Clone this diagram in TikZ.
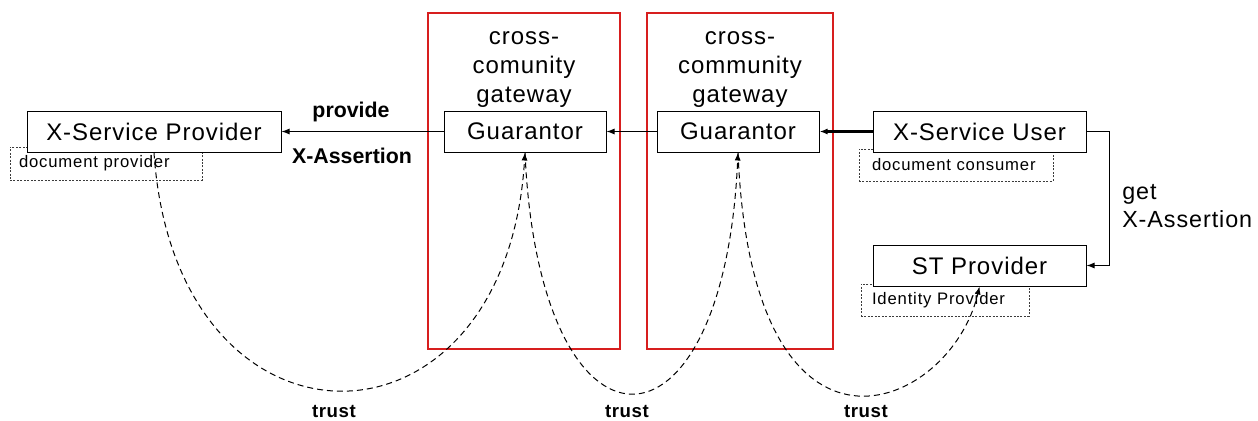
\documentclass[tikz,border=0pt]{standalone}
\usepackage{fontspec}
\setmainfont{Liberation Sans}
\usetikzlibrary{arrows.meta}
\definecolor{gwred}{RGB}{215,30,30}
\definecolor{dotgray}{RGB}{60,60,60}
\begin{document}
\begin{tikzpicture}[x=0.75pt,y=-0.75pt,
  mainfont/.style={font=\fontsize{18}{21.75}\selectfont\addfontfeature{LetterSpace=4}},
  box/.style={draw, fill=white, line width=0.75pt, inner sep=0pt, minimum height=30.75pt, mainfont},
  rolebox/.style={draw=dotgray, dash pattern=on 1.5pt off 1.1pt, line width=0.6pt, inner sep=0pt,
     align=left, font=\fontsize{12.5}{14}\selectfont\addfontfeature{LetterSpace=5}},
  gwbox/.style={draw=gwred, line width=0.8pt, minimum height=252pt, inner sep=0pt},
  arr/.style={-{Latex[length=6pt,width=4.5pt]}, line width=0.75pt},
  trustline/.style={-{Latex[length=6pt,width=4.5pt]}, line width=0.75pt, dash pattern=on 4.5pt off 3pt},
  boldlabel/.style={font=\fontsize{16}{19}\selectfont\bfseries},
  trustlabel/.style={font=\fontsize{14}{17}\selectfont\bfseries\addfontfeature{LetterSpace=3}}
]
\useasboundingbox (0,0) rectangle (1258,421);

% gateway boxes
\node[gwbox, minimum width=144pt] (gw1) at (524,181) {};
\node[gwbox, minimum width=139.5pt] (gw2) at (740,181) {};
\node[mainfont, align=center, anchor=base, inner sep=0pt] (gw1t) at (524,102) {cross-\\comunity\\gateway};
\node[mainfont, align=center, anchor=base, inner sep=0pt] (gw2t) at (740,102) {cross-\\community\\gateway};

% role boxes (behind)
\node[rolebox, minimum height=24.75pt, inner xsep=6.75pt, text width=130.5pt] (docprov) at (106,163.5) {document provider};
\node[rolebox, minimum height=24pt, inner xsep=9.75pt, text width=126pt] (doccons) at (956,165) {document consumer};
\node[rolebox, minimum height=24pt, inner xsep=8.25pt, text width=109.5pt] (idp) at (945,300) {Identity Provider};

% main boxes
\node[box, minimum width=190.5pt] (xsp) at (154,131.5) {X-Service Provider};
\node[box, minimum width=121.5pt] (g1) at (525,131.5) {Guarantor};
\node[box, minimum width=121.5pt] (g2) at (738,131.5) {Guarantor};
\node[box, minimum width=159.75pt] (user) at (979.5,131.5) {X-Service User};
\node[box, minimum width=159.75pt] (stp) at (979.5,265.5) {ST Provider};

% connectors
\draw[arr] (g1.west) -- (xsp.east);
\draw[arr] (g2.west) -- (g1.east);
\draw[arr, line width=2pt] (user.west) -- (g2.east);
\coordinate (bend) at (1109,200);
\draw[arr] (user.east) -- (user.east -| bend) |- (stp.east);

\node[boldlabel, anchor=base, inner sep=0pt] (prov) at (351,117) {provide};
\node[boldlabel, anchor=base, inner sep=0pt] (xass) at (352,163) {X-Assertion};
\node[anchor=base west, align=left, inner sep=0pt, font=\fontsize{17.5}{21}\selectfont\addfontfeature{LetterSpace=4}] (getx) at (1122,227) {get\\X-Assertion};

% trust curves
\draw[trustline] (xsp.south) .. controls +(21,317) and +(-19,317) .. (g1.south);
\draw[trustline] (g1.south) .. controls +(14,321) and +(-14,321) .. (g2.south);
\draw[trustline] (g2.south) .. controls +(14,343) and +(-29,124) .. (stp.south);

\node[trustlabel, anchor=base, inner sep=0pt] (t1) at (334,417) {trust};
\node[trustlabel, anchor=base, inner sep=0pt] (t2) at (627,417) {trust};
\node[trustlabel, anchor=base, inner sep=0pt] (t3) at (866,417) {trust};
\end{tikzpicture}
\end{document}
